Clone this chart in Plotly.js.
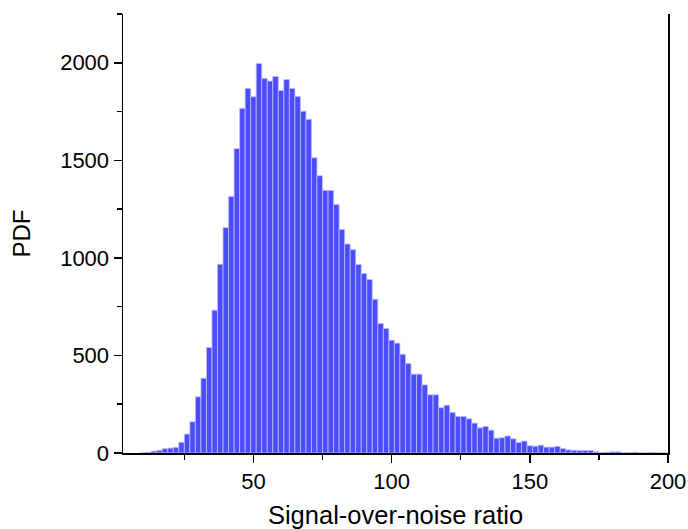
<!DOCTYPE html>
<html>
<head>
<meta charset="utf-8">
<script src="https://cdn.plot.ly/plotly-3.0.1.min.js"></script>
<style>
  html, body { margin: 0; padding: 0; background: #ffffff; }
  #chart { width: 688px; height: 529px; }
</style>
</head>
<body>
<div id="chart"></div>
<script>
// Bin centres (bin width 2) of the signal-over-noise ratio histogram
const binCenters = [
  10, 12, 14, 16, 18, 20, 22, 24, 26, 28,
  30, 32, 34, 36, 38, 40, 42, 44, 46, 48,
  50, 52, 54, 56, 58, 60, 62, 64, 66, 68,
  70, 72, 74, 76, 78, 80, 82, 84, 86, 88,
  90, 92, 94, 96, 98, 100, 102, 104, 106, 108,
  110, 112, 114, 116, 118, 120, 122, 124, 126, 128,
  130, 132, 134, 136, 138, 140, 142, 144, 146, 148,
  150, 152, 154, 156, 158, 160, 162, 164, 166, 168,
  170, 172, 174, 176, 178, 180, 182, 184, 186, 188,
  190, 192, 194, 196, 198
];
// PDF values
const pdfValues = [
  2, 4, 10, 14, 22, 25, 29, 55, 97, 160,
  288, 383, 541, 732, 967, 1155, 1315, 1560, 1766, 1868,
  1826, 1996, 1920, 1906, 1930, 1858, 1914, 1868, 1827, 1752,
  1710, 1513, 1421, 1346, 1346, 1273, 1145, 1071, 1042, 966,
  920, 889, 788, 664, 638, 578, 563, 506, 459, 404,
  404, 349, 298, 298, 232, 245, 208, 187, 187, 175,
  153, 129, 136, 117, 76, 78, 87, 73, 54, 61,
  37, 35, 40, 30, 30, 34, 23, 16, 14, 13,
  13, 13, 6, 3, 4, 6, 6, 1, 2, 4,
  1, 1, 3, 1, 1
];
const binWidth = 2;
const xTickVals = [50, 100, 150, 200];
const xTickText = ['50', '100', '150', '200'];
const yTickVals = [0, 500, 1000, 1500, 2000];
const yTickText = ['0', '500', '1000', '1500', '2000'];
const xTitle = 'Signal-over-noise ratio';
const yTitle = 'PDF';

const trace = {
  type: 'bar',
  x: binCenters,
  y: pdfValues,
  width: binCenters.map(() => binWidth),
  marker: {
    color: '#4b4bff',
    line: { color: '#bdbdff', width: 0.8 }
  },
  hoverinfo: 'x+y'
};

const fontFamily = '"Liberation Sans", Arial, "DejaVu Sans", sans-serif';

const layout = {
  width: 688,
  height: 529,
  margin: { l: 123, r: 20, t: 14, b: 76, pad: 0 },
  paper_bgcolor: '#ffffff',
  plot_bgcolor: '#ffffff',
  showlegend: false,
  bargap: 0,
  font: { family: fontFamily, color: '#000000' },
  xaxis: {
    range: [2.8, 200],
    tickmode: 'array',
    tickvals: xTickVals,
    ticktext: xTickText,
    ticks: 'outside',
    ticklen: 8,
    tickwidth: 1.5,
    tickcolor: '#000',
    minor: { tickmode: 'linear', tick0: 0, dtick: 25, ticks: 'outside', ticklen: 5, tickwidth: 1.5, tickcolor: '#000', showgrid: false },
    showline: true,
    linecolor: '#000',
    linewidth: 1.5,
    mirror: false,
    showgrid: false,
    zeroline: false,
    tickfont: { size: 22, family: fontFamily, color: '#000' },
    title: { text: xTitle, font: { size: 25.5, family: fontFamily, color: '#000' }, standoff: 16 },
    automargin: false
  },
  yaxis: {
    range: [0, 2250],
    tickmode: 'array',
    tickvals: yTickVals,
    ticktext: yTickText,
    ticks: 'outside',
    ticklen: 8,
    tickwidth: 1.5,
    tickcolor: '#000',
    minor: { tickmode: 'linear', tick0: 0, dtick: 250, ticks: 'outside', ticklen: 5, tickwidth: 1.5, tickcolor: '#000', showgrid: false },
    showline: true,
    linecolor: '#000',
    linewidth: 1.5,
    mirror: true,
    showgrid: false,
    zeroline: false,
    tickfont: { size: 22, family: fontFamily, color: '#000' },
    title: { text: yTitle, font: { size: 24, family: fontFamily, color: '#000' }, standoff: 22 },
    automargin: false
  }
};

Plotly.newPlot('chart', [trace], layout, { displayModeBar: false, staticPlot: true });
</script>
</body>
</html>
